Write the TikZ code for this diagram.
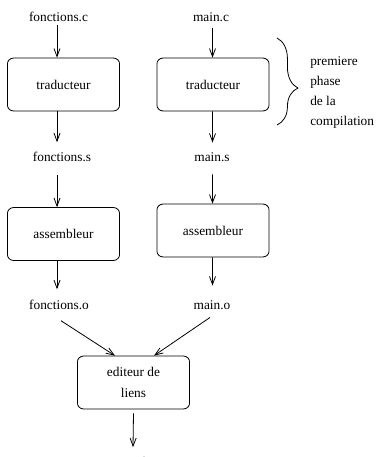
\documentclass[tikz,border=0pt]{standalone}
\usepackage{fontspec}
\setmainfont{Liberation Serif}
\usetikzlibrary{calc,arrows.meta,decorations.pathreplacing}

\begin{document}
\begin{tikzpicture}[x=0.02632cm, y=-0.02632cm,
		every node/.style={font=\fontsize{10}{15.2}\selectfont},
		etape/.style={draw, line width=0.6pt, rounded corners=4.5pt, minimum width=84pt, minimum height=39.6pt, align=center},
		fichier/.style={inner sep=2pt},
		flot/.style={line width=0.6pt, -{Straight Barb[length=6pt, width=4.5pt]}}]
			%%%%% START %%%%%
			\useasboundingbox (0, 0) rectangle (380, 457);
			
			\node[fichier] (fc) at (58.5, 17) {fonctions.c};
			\node[etape] (trad1) at (63.5, 84.5) {traducteur};
			\node[fichier] (fs) at (62, 157) {fonctions.s};
			\node[etape] (asm1) at (63.5, 234) {assembleur};
			\node[fichier] (fo) at (59, 305) {fonctions.o};
			
			\node[fichier] (mc) at (211, 17) {main.c};
			\node[etape] (trad2) at (213, 84.5) {traducteur};
			\node[fichier] (ms) at (212, 157) {main.s};
			\node[etape] (asm2) at (213, 230.5) {assembleur};
			\node[fichier] (mo) at (212, 305) {main.o};
			
			\node[etape] (edit) at (133.5, 382.5) {editeur de\\liens};
			\node[fichier] (prog) at (133, 461) {a.out};
			
			\draw[flot] ($(fc.south)+(-1.5,0)$) -- ($(trad1.north)+(-6.5,0)$);
			\draw[flot] ($(trad1.south)+(-6.5,0)$) -- ($(fs.north)+(-5,-7)$);
			\draw[flot] ($(fs.south)+(-5,10)$) -- ($(asm1.north)+(-6.5,0)$);
			\draw[flot] ($(asm1.south)+(-6.5,0)$) -- ($(fo.north)+(-2,-8)$);
			
			\draw[flot] ($(mc.south)+(1.5,3.5)$) -- ($(trad2.north)+(-0.5,0)$);
			\draw[flot] ($(trad2.south)+(-0.5,0)$) -- ($(ms.north)+(0.5,-7)$);
			\draw[flot] ($(ms.south)+(0.5,10)$) -- ($(asm2.north)+(-0.5,0)$);
			\draw[flot] ($(asm2.south)+(-0.5,0)$) -- ($(mo.north)+(0.5,-12)$);
			
			\draw[flot] ($(fo.south)+(2,8)$) -- ($(edit.north)+(-18.5,0)$);
			\draw[flot] ($(mo.south)+(-2,5)$) -- ($(edit.north)+(20.5,0)$);
			\draw[flot] ($(edit.south)+(0,4)$) -- ($(prog.north)+(0,-7)$);
			
			\draw[line width=0.6pt, decorate, decoration={brace, amplitude=5.5mm, aspect=0.575}] (277, 38) coordinate (haut) -- (277, 125) coordinate (bas);
			\node[anchor=west, align=left, inner sep=0pt] (phase) at (310, 92.5) {premiere\\phase\\de la\\compilation};
			%%%%% END %%%%%
		\end{tikzpicture}
\end{document}
